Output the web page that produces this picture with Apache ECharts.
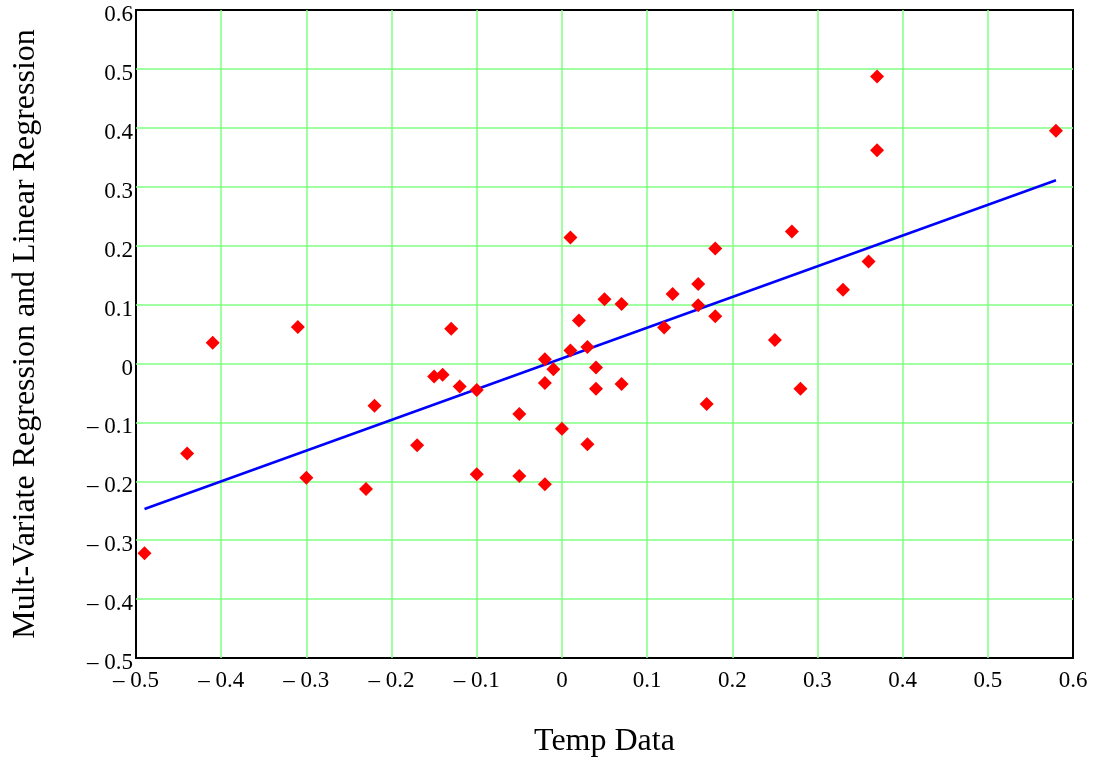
<!DOCTYPE html>
<html>
<head>
<meta charset="utf-8">
<script src="https://cdn.jsdelivr.net/npm/echarts@6/dist/echarts.min.js"></script>
<style>
html,body{margin:0;padding:0;background:#fff;}
#chart{width:1099px;height:759px;}
</style>
</head>
<body>
<div id="chart"></div>
<script>
// Scatter data: Temp Data (x) vs Mult-Variate Regression (y)
const tempData = [-0.49,-0.44,-0.41,-0.31,-0.30,-0.23,-0.22,-0.17,-0.15,-0.14,-0.13,-0.12,-0.10,-0.10,-0.05,-0.05,-0.02,-0.02,-0.02,-0.01,0.00,0.01,0.01,0.02,0.03,0.03,0.04,0.04,0.05,0.07,0.07,0.12,0.13,0.16,0.16,0.17,0.18,0.18,0.25,0.27,0.28,0.33,0.36,0.37,0.37,0.58];
const multVariate = [-0.322,-0.153,0.035,0.062,-0.194,-0.213,-0.072,-0.139,-0.022,-0.019,0.059,-0.039,-0.045,-0.188,-0.086,-0.191,0.007,-0.033,-0.205,-0.010,-0.111,0.214,0.022,0.073,0.028,-0.137,-0.007,-0.043,0.109,0.101,-0.035,0.061,0.118,0.135,0.099,-0.069,0.195,0.080,0.040,0.224,-0.043,0.125,0.173,0.362,0.487,0.395];
// Linear regression line endpoints
const lineX = [-0.49, 0.58];
const lineY = [-0.247, 0.311];

const fmt = v => {
  const r = Math.round(v * 10) / 10;
  if (Math.abs(r) < 1e-9) return '0';
  return r < 0 ? '\u2013 ' + Math.abs(r).toFixed(1) : r.toFixed(1);
};

const chart = echarts.init(document.getElementById('chart'));
const font = 'Liberation Serif';
chart.setOption({
  animation: false,
  backgroundColor: '#ffffff',
  grid: {left: 136, right: 26, top: 10, bottom: 101, containLabel: false, outerBoundsMode: 'none', show: true, borderColor: '#000', borderWidth: 2, backgroundColor: 'transparent'},
  xAxis: {
    type: 'value', min: -0.5, max: 0.6, interval: 0.1,
    name: 'Temp Data', nameLocation: 'middle', nameGap: 68,
    nameTextStyle: {fontFamily: font, fontSize: 32, color: '#000'},
    axisLine: {show: false}, axisTick: {show: false},
    axisLabel: {fontFamily: font, fontSize: 23, color: '#000', margin: 11, formatter: fmt, showMinLabel: true, showMaxLabel: true},
    splitLine: {show: true, showMinLine: false, showMaxLine: false, lineStyle: {color: '#80ff80', width: 1.5}}
  },
  yAxis: {
    type: 'value', min: -0.5, max: 0.6, interval: 0.1,
    name: 'Mult-Variate Regression and Linear Regression', nameLocation: 'middle', nameGap: 94, nameRotate: 90,
    nameTextStyle: {fontFamily: font, fontSize: 32, color: '#000'},
    axisLine: {show: false}, axisTick: {show: false},
    axisLabel: {
      margin: 3, showMinLabel: true, showMaxLabel: true,
      formatter: v => '{t|' + fmt(v) + '}',
      rich: {t: {fontFamily: font, fontSize: 23, color: '#000', padding: [10, 0, 0, 0]}}
    },
    splitLine: {show: true, showMinLine: false, showMaxLine: false, lineStyle: {color: '#80ff80', width: 1.5}}
  },
  series: [
    {
      type: 'line', data: lineX.map((x, i) => [x, lineY[i]]),
      showSymbol: false, symbol: 'none',
      lineStyle: {color: '#0000ff', width: 2.5}, z: 3
    },
    {
      type: 'scatter', data: tempData.map((x, i) => [x, multVariate[i]]),
      symbol: 'diamond', symbolSize: 14,
      itemStyle: {color: '#ff0000', opacity: 1}, z: 4
    }
  ]
});
</script>
</body>
</html>
